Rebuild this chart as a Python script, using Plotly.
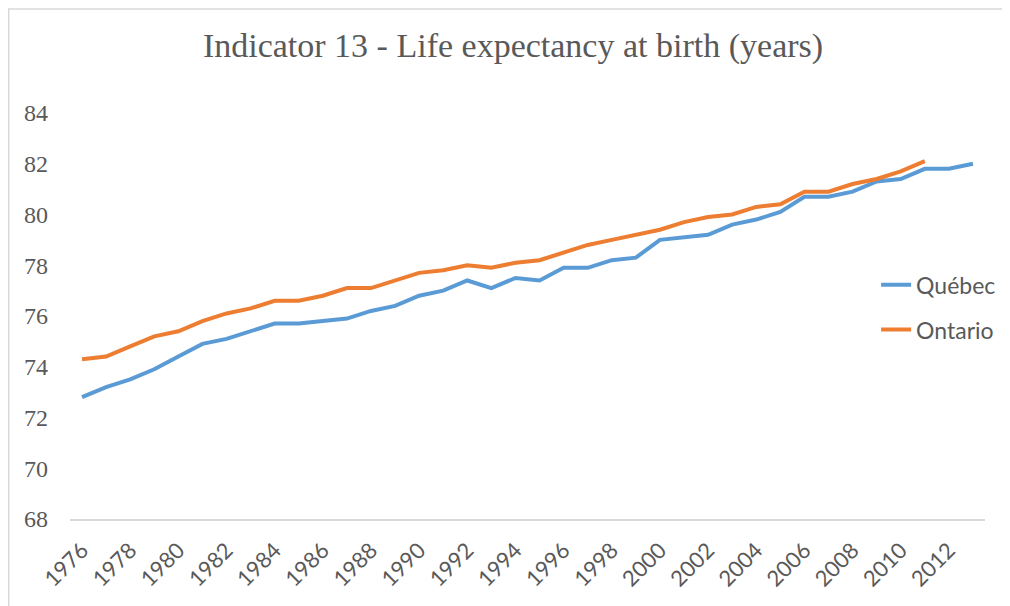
import plotly.graph_objects as go

years = list(range(1976, 2014))
quebec = [72.8, 73.2, 73.5, 73.9, 74.4, 74.9, 75.1, 75.4, 75.7, 75.7,
          75.8, 75.9, 76.2, 76.4, 76.8, 77.0, 77.4, 77.1, 77.5, 77.4,
          77.9, 77.9, 78.2, 78.3, 79.0, 79.1, 79.2, 79.6, 79.8, 80.1,
          80.7, 80.7, 80.9, 81.3, 81.4, 81.8, 81.8, 82.0]
ontario_years = list(range(1976, 2012))
ontario = [74.3, 74.4, 74.8, 75.2, 75.4, 75.8, 76.1, 76.3, 76.6, 76.6,
           76.8, 77.1, 77.1, 77.4, 77.7, 77.8, 78.0, 77.9, 78.1, 78.2,
           78.5, 78.8, 79.0, 79.2, 79.4, 79.7, 79.9, 80.0, 80.3, 80.4,
           80.9, 80.9, 81.2, 81.4, 81.7, 82.1]
tick_years = list(range(1976, 2013, 2))
y_ticks = list(range(68, 85, 2))

fig = go.Figure()
fig.add_trace(go.Scatter(x=years, y=quebec, mode="lines", name="Québec",
                         legendgroup="q",
                         line=dict(color="#5B9BD5", width=4)))
fig.add_trace(go.Scatter(x=ontario_years, y=ontario, mode="lines", name="Ontario",
                         legendgroup="o",
                         line=dict(color="#ED7D31", width=4)))

fig.update_layout(
    width=1010, height=606,
    paper_bgcolor="white", plot_bgcolor="white",
    margin=dict(l=62, r=33, t=105, b=95),
    title=dict(text="Indicator 13 - Life expectancy at birth (years)",
               x=0.5, xanchor="center", y=0.938, yanchor="middle",
               font=dict(family="Liberation Serif, DejaVu Serif, serif",
                         size=34, color="#595959")),
    legend=dict(x=0.881, xanchor="left", y=0.630, yanchor="top",
                font=dict(family="Lato, Open Sans, sans-serif",
                          size=23, color="#595959"),
                tracegroupgap=12, bgcolor="rgba(0,0,0,0)"),
    xaxis=dict(range=[1975.5, 2013.5], tickmode="array", tickvals=tick_years,
               ticktext=[str(t) for t in tick_years], tickangle=-45,
               showgrid=False, zeroline=False, showline=True,
               linecolor="#D9D9D9", linewidth=1.5, ticks="",
               ticklabelstandoff=8,
               tickfont=dict(family="Lato, Open Sans, sans-serif",
                             size=22, color="#595959")),
    yaxis=dict(range=[68, 84], tickmode="array", tickvals=y_ticks,
               showgrid=False, zeroline=False, showline=False, ticks="",
               ticklabelstandoff=21,
               tickfont=dict(family="Liberation Serif, DejaVu Serif, serif",
                             size=24, color="#595959")),
    showlegend=True,
)

# chart border (left and top edges visible in reference)
fig.add_shape(type="line", xref="paper", yref="paper",
              x0=-0.067, x1=-0.067, y0=-0.3, y1=1.258,
              line=dict(color="#D9D9D9", width=1.5))
fig.add_shape(type="line", xref="paper", yref="paper",
              x0=-0.067, x1=1.05, y0=1.256, y1=1.256,
              line=dict(color="#D9D9D9", width=1.5))

fig.write_html("out.html")
